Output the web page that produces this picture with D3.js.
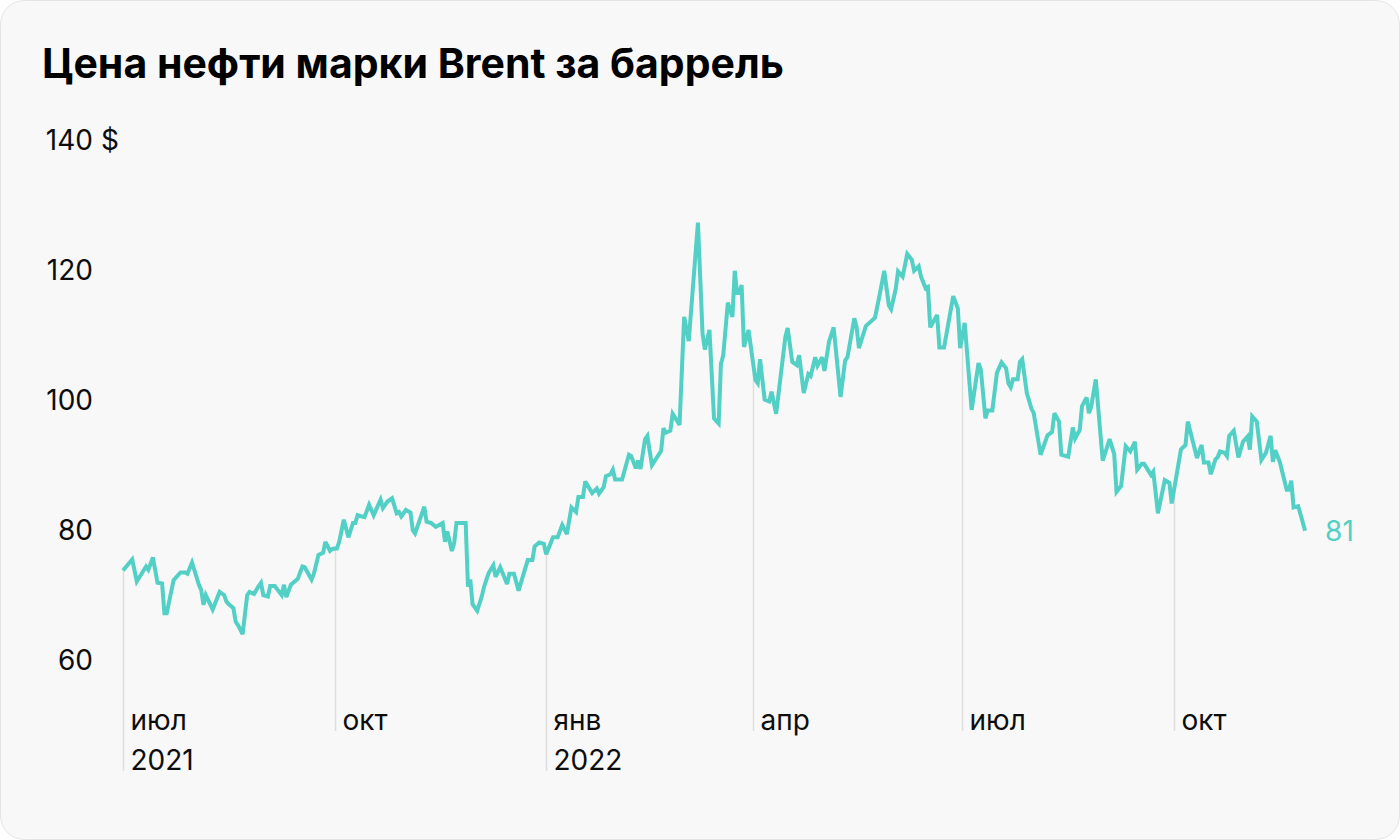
<!DOCTYPE html>
<html><head><meta charset="utf-8">
<script src="https://cdn.jsdelivr.net/npm/d3@7"></script>
<style>html,body{margin:0;padding:0;background:#fff;} svg{display:block}</style>
</head><body>
<svg id="chart" width="1400" height="840"></svg>
<script>
const title = "Цена нефти марки Brent за баррель";
const dates = [
"2021-07-01","2021-07-05","2021-07-07","2021-07-11","2021-07-12","2021-07-14","2021-07-16","2021-07-18","2021-07-19","2021-07-20",
"2021-07-23","2021-07-26","2021-07-28","2021-07-29","2021-07-31","2021-08-01","2021-08-03","2021-08-04","2021-08-05","2021-08-06",
"2021-08-09","2021-08-12","2021-08-14","2021-08-15","2021-08-16","2021-08-18","2021-08-19","2021-08-20","2021-08-22","2021-08-24",
"2021-08-25","2021-08-27","2021-08-29","2021-08-30","2021-08-31","2021-09-02","2021-09-03","2021-09-05","2021-09-08","2021-09-09",
"2021-09-10","2021-09-12","2021-09-15","2021-09-17","2021-09-18","2021-09-21","2021-09-22","2021-09-24","2021-09-26","2021-09-27",
"2021-09-29","2021-09-30","2021-10-02","2021-10-03","2021-10-05","2021-10-07","2021-10-09","2021-10-10","2021-10-11","2021-10-13",
"2021-10-14","2021-10-16","2021-10-18","2021-10-21","2021-10-22","2021-10-24","2021-10-26","2021-10-28","2021-10-29","2021-10-30",
"2021-11-01","2021-11-03","2021-11-04","2021-11-05","2021-11-09","2021-11-10","2021-11-12","2021-11-14","2021-11-17","2021-11-18",
"2021-11-19","2021-11-21","2021-11-22","2021-11-23","2021-11-27","2021-11-28","2021-11-29","2021-11-30","2021-12-02","2021-12-04",
"2021-12-05","2021-12-07","2021-12-09","2021-12-10","2021-12-12","2021-12-15","2021-12-16","2021-12-18","2021-12-20","2021-12-24",
"2021-12-26","2021-12-27","2021-12-29","2021-12-31","2022-01-01","2022-01-04","2022-01-06","2022-01-08","2022-01-10","2022-01-12",
"2022-01-14","2022-01-15","2022-01-17","2022-01-18","2022-01-21","2022-01-23","2022-01-24","2022-01-26","2022-01-27","2022-01-29",
"2022-01-30","2022-01-31","2022-02-03","2022-02-06","2022-02-07","2022-02-09","2022-02-10","2022-02-11","2022-02-13","2022-02-14",
"2022-02-16","2022-02-20","2022-02-21","2022-02-22","2022-02-24","2022-02-25","2022-02-28","2022-03-02","2022-03-04","2022-03-08",
"2022-03-10","2022-03-11","2022-03-13","2022-03-15","2022-03-17","2022-03-18","2022-03-19","2022-03-21","2022-03-23","2022-03-24",
"2022-03-25","2022-03-26","2022-03-27","2022-03-28","2022-03-30","2022-04-02","2022-04-03","2022-04-04","2022-04-06","2022-04-08",
"2022-04-09","2022-04-11","2022-04-15","2022-04-16","2022-04-18","2022-04-20","2022-04-21","2022-04-23","2022-04-25","2022-04-26",
"2022-04-28","2022-04-29","2022-05-01","2022-05-02","2022-05-04","2022-05-06","2022-05-09","2022-05-11","2022-05-12","2022-05-15",
"2022-05-16","2022-05-17","2022-05-20","2022-05-24","2022-05-26","2022-05-28","2022-05-30","2022-05-31","2022-06-02","2022-06-03",
"2022-06-05","2022-06-07","2022-06-09","2022-06-10","2022-06-12","2022-06-13","2022-06-15","2022-06-16","2022-06-17","2022-06-20",
"2022-06-21","2022-06-23","2022-06-27","2022-06-29","2022-06-30","2022-07-02","2022-07-05","2022-07-08","2022-07-09","2022-07-11",
"2022-07-12","2022-07-14","2022-07-16","2022-07-18","2022-07-20","2022-07-21","2022-07-22","2022-07-23","2022-07-25","2022-07-26",
"2022-07-27","2022-07-29","2022-07-31","2022-08-01","2022-08-04","2022-08-07","2022-08-09","2022-08-10","2022-08-12","2022-08-13",
"2022-08-16","2022-08-18","2022-08-19","2022-08-21","2022-08-22","2022-08-24","2022-08-25","2022-08-26","2022-08-28","2022-08-31",
"2022-09-03","2022-09-05","2022-09-06","2022-09-08","2022-09-10","2022-09-12","2022-09-14","2022-09-15","2022-09-17","2022-09-18",
"2022-09-21","2022-09-22","2022-09-24","2022-09-27","2022-09-29","2022-09-30","2022-10-04","2022-10-06","2022-10-07","2022-10-11",
"2022-10-13","2022-10-14","2022-10-16","2022-10-17","2022-10-19","2022-10-20","2022-10-21","2022-10-23","2022-10-24","2022-10-25",
"2022-10-27","2022-10-29","2022-10-31","2022-11-02","2022-11-03","2022-11-04","2022-11-06","2022-11-08","2022-11-10","2022-11-12",
"2022-11-13","2022-11-14","2022-11-16","2022-11-19","2022-11-20","2022-11-21","2022-11-22","2022-11-24","2022-11-27"
];
const prices = [
74.7,76.4,73.0,75.3,74.8,76.7,72.8,72.7,68.1,68.1,
73.2,74.4,74.4,74.2,75.9,74.8,72.5,71.7,69.4,70.9,
68.7,71.4,70.9,69.9,69.5,68.9,66.8,66.3,64.9,70.9,
71.4,71.1,72.3,72.8,70.9,70.7,72.3,72.3,70.9,72.5,
70.6,72.5,73.4,75.3,75.2,73.3,74.2,77.1,77.4,79.1,
77.7,78.0,78.1,79.1,82.5,79.8,82.0,82.0,83.2,83.0,
82.9,84.8,83.2,85.6,84.3,85.3,85.8,83.5,83.7,83.0,
84.0,83.6,80.9,80.4,84.5,82.2,82.0,81.4,82.0,79.1,
80.7,77.7,78.9,82.0,82.0,72.2,73.3,69.5,68.5,70.7,
72.2,74.3,75.5,73.7,75.2,72.6,74.2,74.2,71.6,76.3,
76.3,78.4,79.0,78.8,77.2,79.8,79.8,81.7,80.3,84.4,
83.7,86.0,86.0,88.4,86.6,87.3,86.5,87.5,89.2,89.5,
90.2,88.7,88.7,92.5,92.3,90.4,91.6,90.3,94.9,95.4,
90.9,93.1,96.6,95.9,96.2,98.8,97.1,113.7,110.0,128.2,
111.1,108.7,111.7,98.1,97.3,106.5,107.8,115.9,113.7,120.8,
117.4,117.4,118.6,109.1,111.7,104.0,103.5,107.2,101.0,100.7,
102.2,98.8,110.6,112.0,106.8,106.3,107.8,102.0,104.9,104.6,
107.5,106.2,107.5,105.4,109.9,112.1,101.4,107.0,107.5,113.5,
112.1,108.9,112.3,113.6,117.1,120.8,115.5,114.9,118.0,120.7,
119.9,123.4,122.5,120.8,121.5,119.9,118.1,118.3,112.1,114.0,
109.0,109.0,116.9,115.0,108.9,112.8,99.4,106.6,105.6,98.1,
99.3,99.3,105.1,106.7,105.8,103.5,102.9,104.1,104.1,106.8,
107.2,102.0,99.6,98.9,92.5,95.5,96.0,98.9,97.6,92.5,
92.2,96.7,95.0,96.3,100.0,101.3,98.9,99.9,104.1,91.6,
94.9,92.6,86.8,87.7,93.8,93.0,94.5,90.2,91.1,91.1,
89.4,89.9,83.5,88.6,88.2,85.0,93.3,94.0,97.6,92.0,
94.0,91.3,91.3,89.5,91.8,92.1,93.0,92.8,92.3,95.4,
96.2,92.1,94.5,95.3,93.3,98.4,97.6,91.7,92.8,95.4,
91.4,93.2,91.4,87.1,87.1,88.5,84.4,84.6,80.8
];
const yTicks = [60, 80, 100, 120, 140];
const yUnit = " $";
const tickDates = ["2021-07-01","2021-10-01","2022-01-01","2022-04-01","2022-07-01","2022-10-01"];
const monthLabels = ["июл","окт","янв","апр","июл","окт"];
const yearLabels = ["2021","","2022","","",""];
const lastLabel = "81";

const FONT = "Inter, Roboto, 'Noto Sans', sans-serif";
const LINE = "#52d0c5";
const TXT = "#0d0d0d";
const parse = d3.timeParse("%Y-%m-%d");
const data = dates.map((d, i) => ({date: parse(d), value: prices[i]}));

const svg = d3.select("#chart");
svg.append("rect").attr("x", 0.5).attr("y", 0.5).attr("width", 1399).attr("height", 839)
  .attr("rx", 24).attr("fill", "#f8f8f8").attr("stroke", "#e4e4e4");

const x = d3.scaleTime().domain([parse("2021-07-01"), parse("2022-10-01")]).range([123, 1174]);
const y = d3.scaleLinear().domain([60, 140]).range([666, 146]);

// title
svg.append("text").attr("x", 42).attr("y", 78)
  .attr("font-family", FONT).attr("font-weight", 700).attr("font-size", 41)
  .attr("fill", "#000").text(title);

// y labels
const yl = svg.append("g");
yTicks.forEach((v, i) => {
  yl.append("text").attr("x", 93).attr("y", y(v) + 4)
    .attr("text-anchor", "end")
    .attr("font-family", FONT).attr("font-size", 28).attr("fill", TXT).text(v);
  if (i === yTicks.length - 1) {
    yl.append("text").attr("x", 93).attr("y", y(v) + 4)
      .attr("text-anchor", "start").attr("xml:space", "preserve")
      .attr("font-family", FONT).attr("font-size", 28).attr("fill", TXT).text(yUnit);
  }
});

// value at date by interpolation
const bis = d3.bisector(d => d.date).left;
function valueAt(t) {
  const i = bis(data, t);
  if (i <= 0) return data[0].value;
  if (i >= data.length) return data[data.length - 1].value;
  const a = data[i - 1], b = data[i];
  const k = (t - a.date) / (b.date - a.date);
  return a.value + (b.value - a.value) * k;
}

// x ticks
const xt = svg.append("g");
tickDates.forEach((ds, i) => {
  const t = parse(ds);
  const px = Math.round(x(t)) + 0.5;
  const bottom = yearLabels[i] ? 771 : 731;
  xt.append("line").attr("x1", px).attr("x2", px)
    .attr("y1", y(valueAt(t))).attr("y2", bottom)
    .attr("stroke", "#dedede").attr("stroke-width", 1.5);
  xt.append("text").attr("x", px + 7).attr("y", 730)
    .attr("font-family", FONT).attr("font-size", 28).attr("fill", TXT).text(monthLabels[i]);
  if (yearLabels[i]) {
    xt.append("text").attr("x", px + 7).attr("y", 770)
      .attr("font-family", FONT).attr("font-size", 28).attr("fill", TXT).text(yearLabels[i]);
  }
});

// line
const line = d3.line().x(d => x(d.date)).y(d => y(d.value)).curve(d3.curveLinear);
svg.append("path").datum(data).attr("d", line)
  .attr("fill", "none").attr("stroke", LINE).attr("stroke-width", 4)
  .attr("stroke-linejoin", "miter").attr("stroke-miterlimit", 3);

// last label
const last = data[data.length - 1];
svg.append("text").attr("x", x(last.date) + 20).attr("y", y(last.value) + 10)
  .attr("font-family", FONT).attr("font-size", 28).attr("fill", LINE).text(lastLabel);
</script>
</body></html>
